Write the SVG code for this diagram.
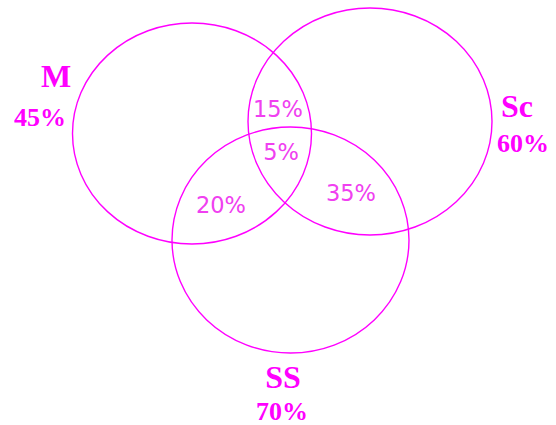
<svg xmlns="http://www.w3.org/2000/svg" width="556" height="425" viewBox="0 0 556 425">
<style>
.c{fill:none;stroke:#FF00FF;stroke-width:1.4}
.lab{font-family:"Liberation Serif",serif;font-weight:bold;fill:#FF00FF;text-anchor:middle}
.big{font-size:32px}
.pct{font-size:26px}
.in{font-family:"DejaVu Sans",sans-serif;font-size:22.5px;fill:#F040F0;text-anchor:middle}
</style>
<rect width="556" height="425" fill="#FFFFFF"/>
<g id="connectors"></g>
<g id="M">
<ellipse class="c" cx="192" cy="133.5" rx="119.5" ry="110.5"/>
<text class="lab big" x="56" y="87">M</text>
<text class="lab pct" x="40" y="126">45%</text>
</g>
<g id="Sc">
<ellipse class="c" cx="370" cy="121.5" rx="122" ry="113.5"/>
<text class="lab big" x="517" y="117">Sc</text>
<text class="lab pct" x="523" y="152">60%</text>
</g>
<g id="SS">
<ellipse class="c" cx="290.5" cy="240" rx="118.5" ry="113"/>
<text class="lab big" x="283" y="388">SS</text>
<text class="lab pct" x="282" y="420">70%</text>
</g>
<g id="regions">
<text class="in" x="278" y="117">15%</text>
<text class="in" x="281" y="160">5%</text>
<text class="in" x="221" y="213">20%</text>
<text class="in" x="351" y="201">35%</text>
</g>
</svg>
